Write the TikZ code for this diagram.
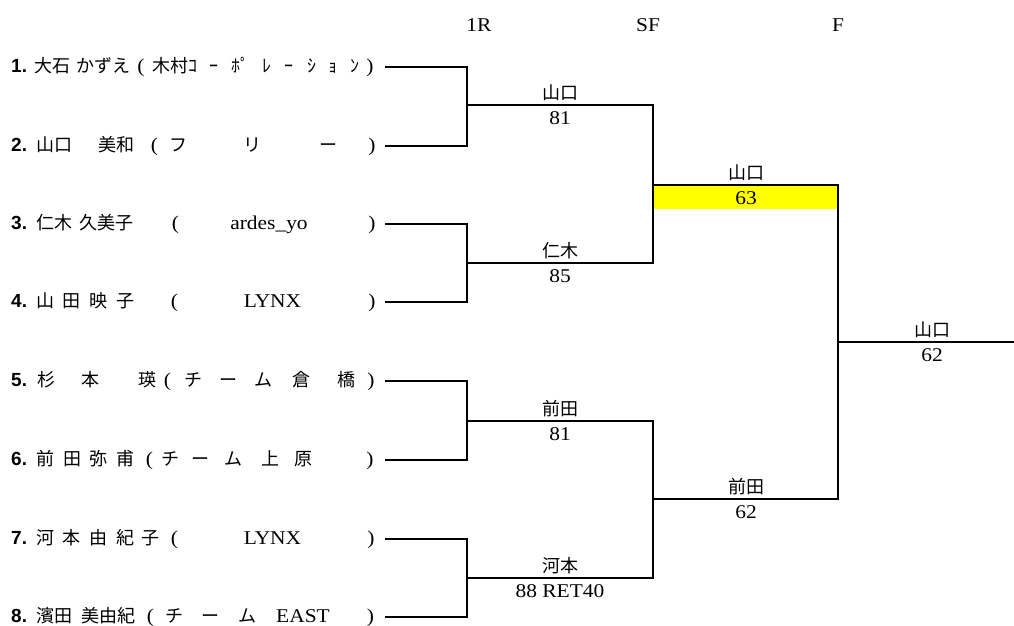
\documentclass[tikz,border=0pt]{standalone}
\usepackage{fontspec}
\setmainfont{Liberation Serif}[FakeStretch=1.1]
\newfontfamily\jpf{Noto Sans CJK JP}
\newfontfamily\numfont{Liberation Sans}
\definecolor{hl}{HTML}{FFFF00}
\tikzset{
  br/.style={line width=2.8pt, line join=miter, line cap=butt},
  txt/.style={anchor=base, inner sep=0pt, font=\fontsize{19.5}{22}\selectfont},
  jt/.style={anchor=base, inner sep=0pt, font=\jpf\fontsize{18}{20}\selectfont},
  num/.style={anchor=base west, inner sep=0pt, font=\numfont\bfseries\fontsize{19}{22}\selectfont}
}
\begin{document}
\begin{tikzpicture}[x=1pt,y=-1pt]
\useasboundingbox (0,0) rectangle (1014,626);
\fill[white] (0,0) rectangle (1014,626);

% headers
\node[txt] (h1) at (479,32) {1R};
\node[txt] (h2) at (648,32) {SF};
\node[txt] (h3) at (838,32) {F};

% coordinates
\foreach \i/\y in {1/67,2/146,3/224,4/302,5/381,6/460,7/539,8/617}{
  \coordinate (p\i) at (385,\y);
  \coordinate (q\i) at (467,\y);
}
\coordinate (m1L) at (467,105); \coordinate (m1R) at (653,105);
\coordinate (m2L) at (467,263); \coordinate (m2R) at (653,263);
\coordinate (m3L) at (467,421); \coordinate (m3R) at (653,421);
\coordinate (m4L) at (467,578); \coordinate (m4R) at (653,578);
\coordinate (s1L) at (653,185); \coordinate (s1R) at (838,185);
\coordinate (s2L) at (653,499); \coordinate (s2R) at (838,499);
\coordinate (fL) at (838,342);  \coordinate (fR) at (1014,342);
\coordinate (hlB) at (838,209);

% highlight
\fill[hl] (s1L) rectangle (hlB);

% bracket lines
\draw[br] (p1) -- (q1) -- (q2) -- (p2);
\draw[br] (p3) -- (q3) -- (q4) -- (p4);
\draw[br] (p5) -- (q5) -- (q6) -- (p6);
\draw[br] (p7) -- (q7) -- (q8) -- (p8);
\draw[br] (m1L) -- (m1R) -- (m2R) -- (m2L);
\draw[br] (m3L) -- (m3R) -- (m4R) -- (m4L);
\draw[br] (s1L) -- (s1R) -- (s2R) -- (s2L);
\draw[br] (fL) -- (fR);

% match labels
\node[jt]  (w1) at (560,99.5) {山口};   \node[txt] (sc1) at (560,124) {81};
\node[jt]  (w2) at (560,257.5) {仁木};  \node[txt] (sc2) at (560,282) {85};
\node[jt]  (w3) at (560,415.5) {前田};  \node[txt] (sc3) at (560,440) {81};
\node[jt]  (w4) at (560,572.5) {河本};  \node[txt] (sc4) at (560,597) {88 RET40};
\node[jt]  (w5) at (746,179.5) {山口};  \node[txt] (sc5) at (746,204) {63};
\node[jt]  (w6) at (746,493.5) {前田};  \node[txt] (sc6) at (746,518) {62};
\node[jt]  (w7) at (932,336.5) {山口};  \node[txt] (sc7) at (932,361) {62};

% numbers
\foreach \i/\y in {1/72,2/151,3/229,4/307,5/386,6/465,7/544,8/622}{
  \node[num] (n\i) at (11,\y) {\i.};
}

% row 1
\node[jt] (r1c1) at (52,72) {大石};
\node[jt] (r1c2) at (103.5,72) {かずえ};
\node[txt] (r1o) at (141,72) {(};
\node[jt] (r1c3) at (170,72) {木村};
\node[jt] (r1c4) at (274,72) {\makebox[172pt][s]{ｺ\hfill ｰ\hfill ﾎﾟ\hfill ﾚ\hfill ｰ\hfill ｼ\hfill ｮ\hfill ﾝ}};
\node[txt] (r1e) at (370,72) {)};

% row 2
\node[jt] (r2c1) at (54.5,151) {山口};
\node[jt] (r2c2) at (116.5,151) {美和};
\node[txt] (r2o) at (154.5,151) {(};
\foreach \x/\t [count=\k] in {178.5/フ,252/リ,328/ー}{
  \node[jt] (r2k\k) at (\x,151) {\t};
}
\node[txt] (r2e) at (372,151) {)};

% row 3
\node[jt] (r3c1) at (54.5,229) {仁木};
\node[jt] (r3c2) at (106.5,229) {久美子};
\node[txt] (r3o) at (175.5,229) {(};
\node[txt] (r3k) at (269,229) {ardes\_yo};
\node[txt] (r3e) at (372,229) {)};

% row 4
\foreach \x/\t [count=\k] in {45/山,71.5/田,98.5/映,125/子}{
  \node[jt] (r4c\k) at (\x,307) {\t};
}
\node[txt] (r4o) at (174.5,307) {(};
\node[txt] (r4k) at (272.5,307) {LYNX};
\node[txt] (r4e) at (372,307) {)};

% row 5
\foreach \x/\t [count=\k] in {46/杉,90/本,147.5/瑛}{
  \node[jt] (r5c\k) at (\x,386) {\t};
}
\node[txt] (r5o) at (167.5,386) {(};
\foreach \x/\t [count=\k] in {193/チ,228/ー,263/ム,301.5/倉,346/橋}{
  \node[jt] (r5k\k) at (\x,386) {\t};
}
\node[txt] (r5e) at (371,386) {)};

% row 6
\foreach \x/\t [count=\k] in {45/前,72/田,98.5/弥,125/甫}{
  \node[jt] (r6c\k) at (\x,465) {\t};
}
\node[txt] (r6o) at (149.5,465) {(};
\foreach \x/\t [count=\k] in {170/チ,200/ー,233.5/ム,270/上,303/原}{
  \node[jt] (r6k\k) at (\x,465) {\t};
}
\node[txt] (r6e) at (370,465) {)};

% row 7
\foreach \x/\t [count=\k] in {45/河,71.5/本,98.5/由,125/紀,150.5/子}{
  \node[jt] (r7c\k) at (\x,544) {\t};
}
\node[txt] (r7o) at (174.5,544) {(};
\node[txt] (r7k) at (272.5,544) {LYNX};
\node[txt] (r7e) at (371,544) {)};

% row 8
\node[jt] (r8c1) at (54.5,622) {濱田};
\node[jt] (r8c2) at (108.5,622) {美由紀};
\node[txt] (r8o) at (150.5,622) {(};
\foreach \x/\t [count=\k] in {174.5/チ,210/ー,247.5/ム}{
  \node[jt] (r8k\k) at (\x,622) {\t};
}
\node[txt] (r8k4) at (303,622) {EAST};
\node[txt] (r8e) at (370.5,622) {)};
\end{tikzpicture}
\end{document}
